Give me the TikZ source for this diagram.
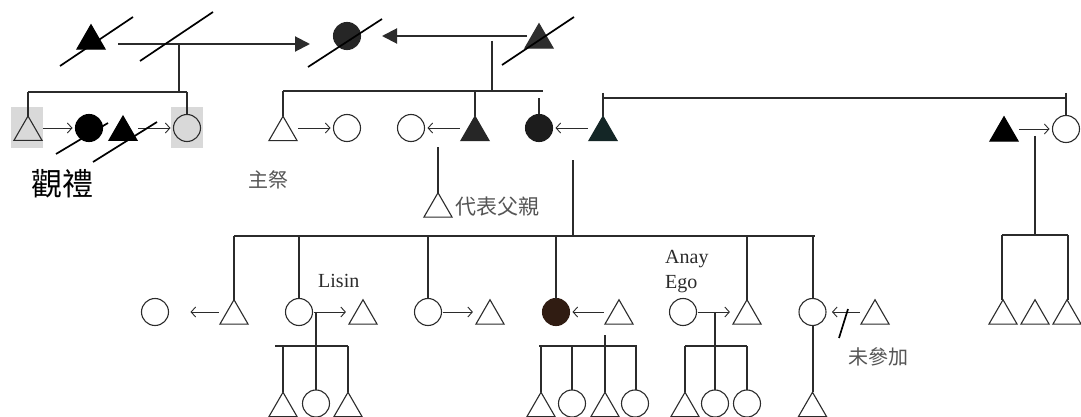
\documentclass[tikz,border=0pt]{standalone}
\usepackage{fontspec}
\setmainfont{Liberation Serif}
\newfontfamily\cjk{Noto Sans CJK TC}
\usetikzlibrary{shapes.geometric,arrows.meta}
\definecolor{lc}{HTML}{2B2B2B}
\definecolor{tg}{HTML}{555555}
\definecolor{bgg}{HTML}{D9D9D9}
\definecolor{fa}{HTML}{262626}
\definecolor{fb}{HTML}{2E2E2E}
\definecolor{fc}{HTML}{1C1C1C}
\definecolor{fd}{HTML}{142626}
\definecolor{fe}{HTML}{301C12}
\begin{document}
\begin{tikzpicture}[x=1pt,y=-1pt,
  tribox/.style={regular polygon,regular polygon sides=3,minimum size=32.5pt,inner sep=0pt,outer sep=0pt,draw=lc,line width=1.1pt},
  ftribox/.style={tribox,fill=#1,draw=#1},
  circbox/.style={circle,minimum size=27pt,inner sep=0pt,outer sep=0pt,draw=lc,line width=1.1pt},
  fcircbox/.style={circbox,fill=#1,draw=#1},
  kinline/.style={draw=lc,line width=2pt},
  arr/.style={draw=lc,line width=0.9pt,-{Straight Barb[length=4.5pt,width=10pt]},shorten <=1pt,shorten >=3pt},
  bigarr/.style={draw=lc,line width=2pt,-{Triangle[length=15pt,width=15pt]}},
  slashline/.style={draw=black,line width=1.7pt},
  graytxt/.style={text=tg,inner sep=0pt},
  lattxt/.style={text=lc,inner sep=0pt,font=\fontsize{20}{20}\selectfont}]
\useasboundingbox (0,0) rectangle (1081,417);
\fill[white] (0,0) rectangle (1081,417);
% gray backgrounds
\fill[bgg] (11,107) rectangle (43,148);
\fill[bgg] (171,107) rectangle (203,148);
% generation 1
\node[ftribox=black] (a1) at (91,41) {};
\node[fcircbox=fa] (a2) at (347,36) {};
\node[ftribox=fb] (a3) at (539,40) {};
% generation 2 left
\node[tribox] (b1) at (28,132.3) {};
\node[fcircbox=black] (b2) at (89,128) {};
\node[ftribox=black] (b3) at (123,132.3) {};
\node[circbox] (b4) at (187,128) {};
% generation 2 right
\node[tribox] (c1) at (283,132.5) {};
\node[circbox] (c2) at (347,128) {};
\node[circbox] (c3) at (411,128) {};
\node[ftribox=fa] (c4) at (475,132.5) {};
\node[fcircbox=fc] (c5) at (539,128) {};
\node[ftribox=fd] (c6) at (603,132.5) {};
\node[ftribox=black] (c7) at (1004,133) {};
\node[circbox] (c8) at (1066,129) {};
\node[tribox] (d1) at (438,209) {};
% generation 3
\node[circbox] (e1) at (155,312) {};
\node[tribox] (e2) at (234,316) {};
\node[circbox] (e3) at (299,312) {};
\node[tribox] (e4) at (363,316) {};
\node[circbox] (e5) at (428,312) {};
\node[tribox] (e6) at (490,316) {};
\node[fcircbox=fe] (e7) at (556,312) {};
\node[tribox] (e8) at (619,316) {};
\node[circbox] (e9) at (683,312) {};
\node[tribox] (e10) at (747,316) {};
\node[circbox] (e11) at (812.5,312) {};
\node[tribox] (e12) at (875,316) {};
\node[tribox] (r1) at (1003,316) {};
\node[tribox] (r2) at (1035,316) {};
\node[tribox] (r3) at (1067,316) {};
% generation 4
\node[tribox] (f1) at (283,408.5) {};
\node[circbox] (f2) at (316,403.5) {};
\node[tribox] (f3) at (348,408.5) {};
\node[tribox] (g1) at (541,408.5) {};
\node[circbox] (g2) at (572,403.5) {};
\node[tribox] (g3) at (605,408.5) {};
\node[circbox] (g4) at (635,403.5) {};
\node[tribox] (h1) at (685,408.5) {};
\node[circbox] (h2) at (715,403.5) {};
\node[circbox] (h3) at (747,403.5) {};
\node[tribox] (k1) at (812.5,408.5) {};
% junction coordinates
\coordinate (m1s) at (118,44);
\coordinate (m1e) at (310,44);
\coordinate (m1) at (179,44);
\coordinate (s1) at (0,92);
\coordinate (m2s) at (527,36);
\coordinate (m2e) at (382,36);
\coordinate (m2) at (492,41);
\coordinate (s2) at (0,91);
\coordinate (m3) at (0,98.5);
\coordinate (m3t) at (0,93);
\coordinate (m4) at (573,160);
\coordinate (sB) at (0,236);
\coordinate (m5) at (1035,136);
\coordinate (sR) at (0,235);
\coordinate (sC) at (0,346);
\coordinate (d0) at (438,147);
% generation 1 connectors
\draw[bigarr] (m1s) -- (m1e);
\draw[bigarr] (m2s) -- (m2e);
\draw[kinline] (m1) -- (m1 |- s1);
\draw[kinline] (b1.corner 1 |- s1) -- (b4.north |- s1);
\draw[kinline] (b1.corner 1 |- s1) -- (b1.corner 1);
\draw[kinline] (b4.north |- s1) -- (b4.north);
\draw[kinline] (m2) -- (m2 |- s2);
\draw[kinline] (c1.corner 1 |- s2) -- ([xshift=4pt]c5.north |- s2);
\draw[kinline] (c1.corner 1 |- s2) -- (c1.corner 1);
\draw[kinline] (c4.corner 1 |- s2) -- (c4.corner 1);
\draw[kinline] (c5.north |- m3) -- (c5.north);
\draw[kinline] (c6.corner 1 |- m3t) -- (c6.corner 1);
\draw[kinline] (c6.corner 1 |- m3) -- (c8.north |- m3);
\draw[kinline] (c8.north |- m3t) -- (c8.north);
% generation 2 arrows
\draw[arr] (b1.corner 3 |- b2.center) -- (b2.west);
\draw[arr] (b3.corner 3 |- b4.center) -- (b4.west);
\draw[arr] (c1.corner 3 |- c2.center) -- (c2.west);
\draw[arr] (c4.corner 2 |- c3.center) -- (c3.east);
\draw[arr] (c6.corner 2 |- c5.center) -- (c5.east);
\draw[arr] (c7.corner 3 |- c8.center) -- (c8.west);
% slashes
\draw[slashline] (60,66) -- (133,17);
\draw[slashline] (140,61) -- (213,12);
\draw[slashline] (308,67) -- (382,19);
\draw[slashline] (502,65) -- (574,17);
\draw[slashline] (56,154) -- (108,123);
\draw[slashline] (93,162) -- (157,122);
% representative father
\draw[kinline] (d0) -- (d1.corner 1);
% generation 3 sibling line
\draw[kinline] (m4) -- (m4 |- sB);
\draw[kinline] (e2.corner 1 |- sB) -- ([xshift=2pt]e11.north |- sB);
\draw[kinline] (e2.corner 1 |- sB) -- (e2.corner 1);
\draw[kinline] (e3.north |- sB) -- (e3.north);
\draw[kinline] (e5.north |- sB) -- (e5.north);
\draw[kinline] (e7.north |- sB) -- (e7.north);
\draw[kinline] (e10.corner 1 |- sB) -- (e10.corner 1);
\draw[kinline] (e11.north |- sB) -- (e11.north);
% right family
\draw[kinline] (m5) -- (m5 |- sR);
\draw[kinline] ([xshift=-1pt]r1.corner 1 |- sR) -- ([xshift=1pt]r3.corner 1 |- sR);
\draw[kinline] ([xshift=-1pt]r1.corner 1 |- sR) -- ([xshift=-1pt]r1.corner 1);
\draw[kinline] ([xshift=1pt]r3.corner 1 |- sR) -- ([xshift=1pt]r3.corner 1);
% generation 3 arrows
\draw[arr,shorten >=22pt] (e2.corner 2 |- e1.center) -- (e1.east);
\draw[arr] (e3.east) -- (e4.corner 2 |- e3.center);
\draw[arr] (e5.east) -- (e6.corner 2 |- e5.center);
\draw[arr] (e8.corner 2 |- e7.center) -- (e7.east);
\draw[arr] (e9.east) -- (e10.corner 2 |- e9.center);
\draw[arr,shorten >=6pt] (e12.corner 2 |- e11.center) -- (e11.east);
\draw[slashline] (839,338) -- (848,309);
% generation 4
\draw[kinline] (f2.north |- e3.center) -- (f2.north);
\draw[kinline] ([xshift=-8pt]f1.corner 1 |- sC) -- (f3.corner 1 |- sC);
\draw[kinline] (f1.corner 1 |- sC) -- (f1.corner 1);
\draw[kinline] (f3.corner 1 |- sC) -- (f3.corner 1);
\draw[kinline] (g3.corner 1 |- 0,335) -- (g3.corner 1);
\draw[kinline] ([xshift=-2pt]g1.corner 1 |- sC) -- ([xshift=2pt]g4.north |- sC);
\draw[kinline] (g1.corner 1 |- sC) -- (g1.corner 1);
\draw[kinline] (g2.north |- sC) -- (g2.north);
\draw[kinline] ([xshift=1pt]g4.north |- sC) -- ([xshift=1pt]g4.north);
\draw[kinline] (h2.north |- e9.center) -- (h2.north);
\draw[kinline] (h1.corner 1 |- sC) -- (h3.north |- sC);
\draw[kinline] (h1.corner 1 |- sC) -- (h1.corner 1);
\draw[kinline] (h3.north |- sC) -- (h3.north);
\draw[kinline] (e11.south) -- (k1.corner 1);
% texts
\node[text=black,inner sep=0pt,font=\cjk\fontsize{31}{31}\selectfont] (t1) at (62,184) {觀禮};
\node[graytxt,font=\cjk\fontsize{20}{20}\selectfont] (t2) at (268,180) {主祭};
\node[graytxt,anchor=west,font=\cjk\fontsize{21}{21}\selectfont] (t3) at (455,207) {代表父親};
\node[graytxt,font=\cjk\fontsize{20}{20}\selectfont] (t4) at (878,357) {未參加};
\node[lattxt,anchor=base west] (t5) at (318,287) {Lisin};
\node[lattxt,anchor=base west] (t6) at (665,263) {Anay};
\node[lattxt,anchor=base west] (t7) at (665,288) {Ego};
\end{tikzpicture}
\end{document}
